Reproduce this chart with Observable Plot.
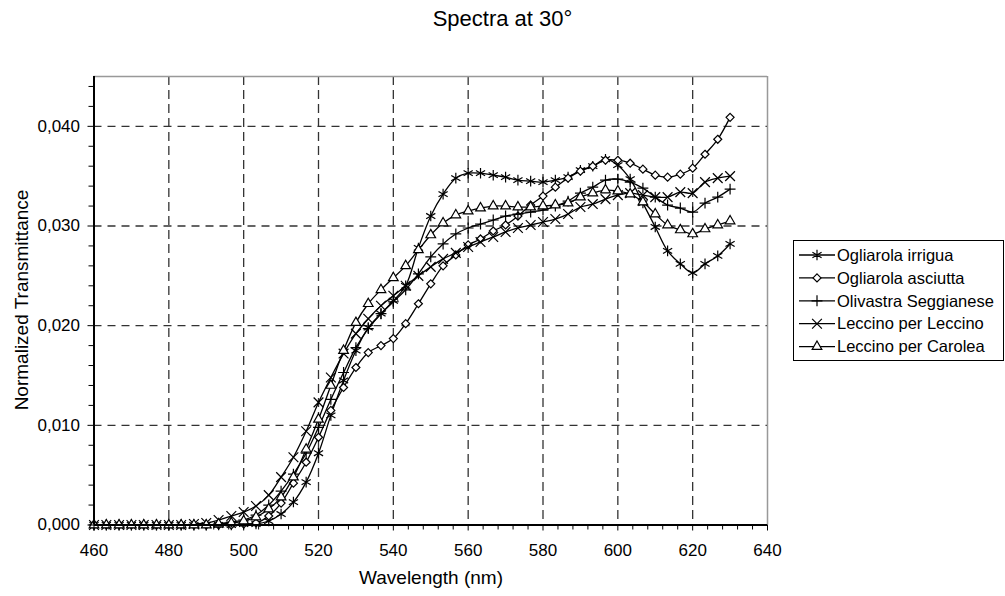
<!DOCTYPE html>
<html><head><meta charset="utf-8">
<script src="https://cdn.jsdelivr.net/npm/d3@7"></script>
<script src="https://cdn.jsdelivr.net/npm/@observablehq/plot@0.6"></script>
<style>
body{margin:0;background:#fff;font-family:Arial,"Liberation Sans",sans-serif;color:#000;}
#wrap{position:relative;width:1005px;height:596px;overflow:hidden;background:#fff;}
#title{position:absolute;left:0;top:6px;width:1005px;text-align:center;font-size:22px;line-height:26px;}
#chart{position:absolute;left:0;top:50px;}
.axt{position:absolute;font-size:19px;white-space:nowrap;transform:translate(-50%,-50%);line-height:22px;}
#legend{position:absolute;left:793px;top:240px;}
</style></head><body>
<div id="wrap">
<div id="title">Spectra at 30°</div>
<div id="chart"></div>
<div class="axt" style="left:431px;top:578px;">Wavelength (nm)</div>
<div class="axt" style="left:22px;top:300px;transform:translate(-50%,-50%) rotate(-90deg);">Normalized Transmittance</div>
<div id="legend"></div>
</div>
<script>
const wavelength = [460,463.3,466.7,470,473.3,476.7,480,483.3,486.7,490,493.3,496.7,500,503.3,506.7,510,513.3,516.7,520,523.3,526.7,530,533.3,536.7,540,543.3,546.7,550,553.3,556.7,560,563.3,566.7,570,573.3,576.7,580,583.3,586.7,590,593.3,596.7,600,603.3,606.7,610,613.3,616.7,620,623.3,626.7,630];

const seriesNames = ["Ogliarola irrigua","Ogliarola asciutta","Olivastra Seggianese","Leccino per Leccino","Leccino per Carolea"];

const ogliarolaIrrigua = [0,0,0,0,0,0,0,0,0,0,0,0,
 0.0001,0.0001,0.0004,0.0011,0.0023,0.0043,0.0072,0.0110,0.0145,0.0175,
 0.0198,0.0212,0.0225,0.0240,0.0278,0.0310,0.0332,0.0348,0.0353,0.0353,
 0.0351,0.0349,0.0346,0.0345,0.0344,0.0346,0.0349,0.0356,0.0360,0.0367,
 0.0361,0.0347,0.0323,0.0299,0.0275,0.0262,0.0253,0.0262,0.0270,0.0282];

const ogliarolaAsciutta = [0,0,0,0,0,0,0,0,0,0,0,0,
 0.0001,0.0002,0.0009,0.0022,0.0042,0.0063,0.0088,0.0115,0.0138,0.0158,
 0.0173,0.0180,0.0187,0.0202,0.0222,0.0242,0.0260,0.0271,0.0281,0.0287,
 0.0295,0.0301,0.0310,0.0321,0.0330,0.0339,0.0348,0.0355,0.0360,0.0366,
 0.0366,0.0363,0.0357,0.0351,0.0349,0.0352,0.0358,0.0372,0.0387,0.0409];

const olivastraSeggianese = [0,0,0,0,0,0,0,0,0,0,0.0001,0.0003,
 0.0005,0.0010,0.0020,0.0034,0.0051,0.0072,0.0098,0.0126,0.0153,0.0178,
 0.0197,0.0212,0.0224,0.0236,0.0252,0.0269,0.0282,0.0292,0.0298,0.0302,
 0.0306,0.0310,0.0312,0.0314,0.0316,0.0320,0.0325,0.0333,0.0339,0.0346,
 0.0347,0.0344,0.0338,0.0329,0.0321,0.0318,0.0314,0.0323,0.0329,0.0337];

const leccinoPerLeccino = [0,0,0,0,0,0,0,0,0.0001,0.0002,0.0005,0.0009,
 0.0013,0.0019,0.0030,0.0048,0.0068,0.0094,0.0123,0.0148,0.0172,0.0192,
 0.0207,0.0220,0.0230,0.0240,0.0250,0.0259,0.0267,0.0273,0.0279,0.0284,
 0.0289,0.0294,0.0298,0.0301,0.0304,0.0307,0.0312,0.0319,0.0322,0.0327,
 0.0331,0.0333,0.0331,0.0329,0.0329,0.0334,0.0333,0.0344,0.0348,0.0350];

const leccinoPerCarolea = [0,0,0,0,0,0,0,0,0,0,0.0001,0.0002,
 0.0004,0.0008,0.0016,0.0028,0.0048,0.0076,0.0106,0.0140,0.0175,0.0203,
 0.0222,0.0236,0.0248,0.0260,0.0276,0.0291,0.0303,0.0311,0.0315,0.0318,
 0.0320,0.0320,0.0319,0.0319,0.0320,0.0321,0.0323,0.0329,0.0333,0.0336,
 0.0335,0.0332,0.0324,0.0312,0.0301,0.0296,0.0292,0.0297,0.0301,0.0305];

const xMajorTicks = [460,480,500,520,540,560,580,600,620,640];
const yMajorTicks = [0,0.01,0.02,0.03,0.04];

const valuesBySeries = [ogliarolaIrrigua, ogliarolaAsciutta, olivastraSeggianese, leccinoPerLeccino, leccinoPerCarolea];
const symbols = ["asterisk","diamond2","plus","times","triangle2"];
const radii = [5, 3.6, 3.6, 4.5, 4.6];
const fills = ["none","white","none","none","white"];

const data = [];
seriesNames.forEach((name, s) => {
  valuesBySeries[s].forEach((v, i) => data.push({series: name, wl: wavelength[i], t: v}));
});

const xMinor = d3.range(460, 641, 4).filter(v => !xMajorTicks.includes(v));
const yMinor = d3.range(0, 0.0451, 0.002).map(v => +v.toFixed(3)).filter(v => !yMajorTicks.some(t => Math.abs(t - v) < 1e-9));

const marks = [
  Plot.gridX(xMajorTicks.filter(v => v > 460 && v < 640), {stroke: "#333", strokeOpacity: 1, strokeWidth: 1.3, strokeDasharray: "9,5"}),
  Plot.gridY(yMajorTicks.filter(v => v > 0), {stroke: "#333", strokeOpacity: 1, strokeWidth: 1.3, strokeDasharray: "8,6"}),
  Plot.ruleY([0.045], {stroke: "#999", strokeWidth: 1.5}),
  Plot.ruleX([640], {stroke: "#999", strokeWidth: 1.5})
];
seriesNames.forEach((name, s) => {
  const d = data.filter(r => r.series === name);
  marks.push(Plot.line(d, {x: "wl", y: "t", stroke: "black", strokeWidth: 1.3, curve: "catmull-rom"}));
  marks.push(Plot.dot(d, {x: "wl", y: "t", symbol: () => symbols[s], r: radii[s], stroke: "black", strokeWidth: 1.2, fill: fills[s]}));
});
marks.push(
  Plot.ruleX([460], {stroke: "black", strokeWidth: 2}),
  Plot.ruleY([0], {stroke: "black", strokeWidth: 2}),
  Plot.axisX({ticks: xMajorTicks, tickSize: 6, tickPadding: 13, tickFormat: d => String(d), label: null, fontSize: 17}),
  Plot.axisX({ticks: xMinor, tickSize: 5, tickFormat: () => "", label: null}),
  Plot.axisY({ticks: yMajorTicks, tickSize: 6, tickPadding: 8, tickFormat: d => d.toFixed(3).replace(".", ","), label: null, fontSize: 17}),
  Plot.axisY({ticks: yMinor, tickSize: 5, tickFormat: () => "", label: null})
);

const chart = Plot.plot({
  width: 1005, height: 546,
  marginTop: 26, marginBottom: 71.5, marginLeft: 93.5, marginRight: 238,
  x: {domain: [460, 640]},
  y: {domain: [0, 0.045]},
  symbol: {type: "identity"},
  style: {fontFamily: "Arial, 'Liberation Sans', sans-serif", fontSize: "17px", color: "black", background: "white", overflow: "visible"},
  marks
});
document.getElementById("chart").appendChild(chart);

// legend
const lg = d3.select("#legend").append("svg").attr("width", 212).attr("height", 122)
  .style("font-family", "Arial, 'Liberation Sans', sans-serif");
lg.append("rect").attr("x", 0.5).attr("y", 0.5).attr("width", 210).attr("height", 120).attr("fill", "white").attr("stroke", "black");
const d3sym = {asterisk: d3.symbolAsterisk, diamond2: d3.symbolDiamond2, plus: d3.symbolPlus, times: d3.symbolTimes, triangle2: d3.symbolTriangle2};
seriesNames.forEach((name, s) => {
  const y = 15 + s * 22.9;
  const g = lg.append("g");
  g.append("line").attr("x1", 6).attr("x2", 42).attr("y1", y).attr("y2", y).attr("stroke", "black").attr("stroke-width", 1.3);
  g.append("path").attr("transform", `translate(24,${y})`)
    .attr("d", d3.symbol(d3sym[symbols[s]], Math.PI * radii[s] * radii[s])())
    .attr("fill", fills[s]).attr("stroke", "black").attr("stroke-width", 1.2);
  g.append("text").attr("x", 44).attr("y", y).attr("dy", "0.35em").attr("font-size", 16.5).text(name);
});
</script>
</body></html>
